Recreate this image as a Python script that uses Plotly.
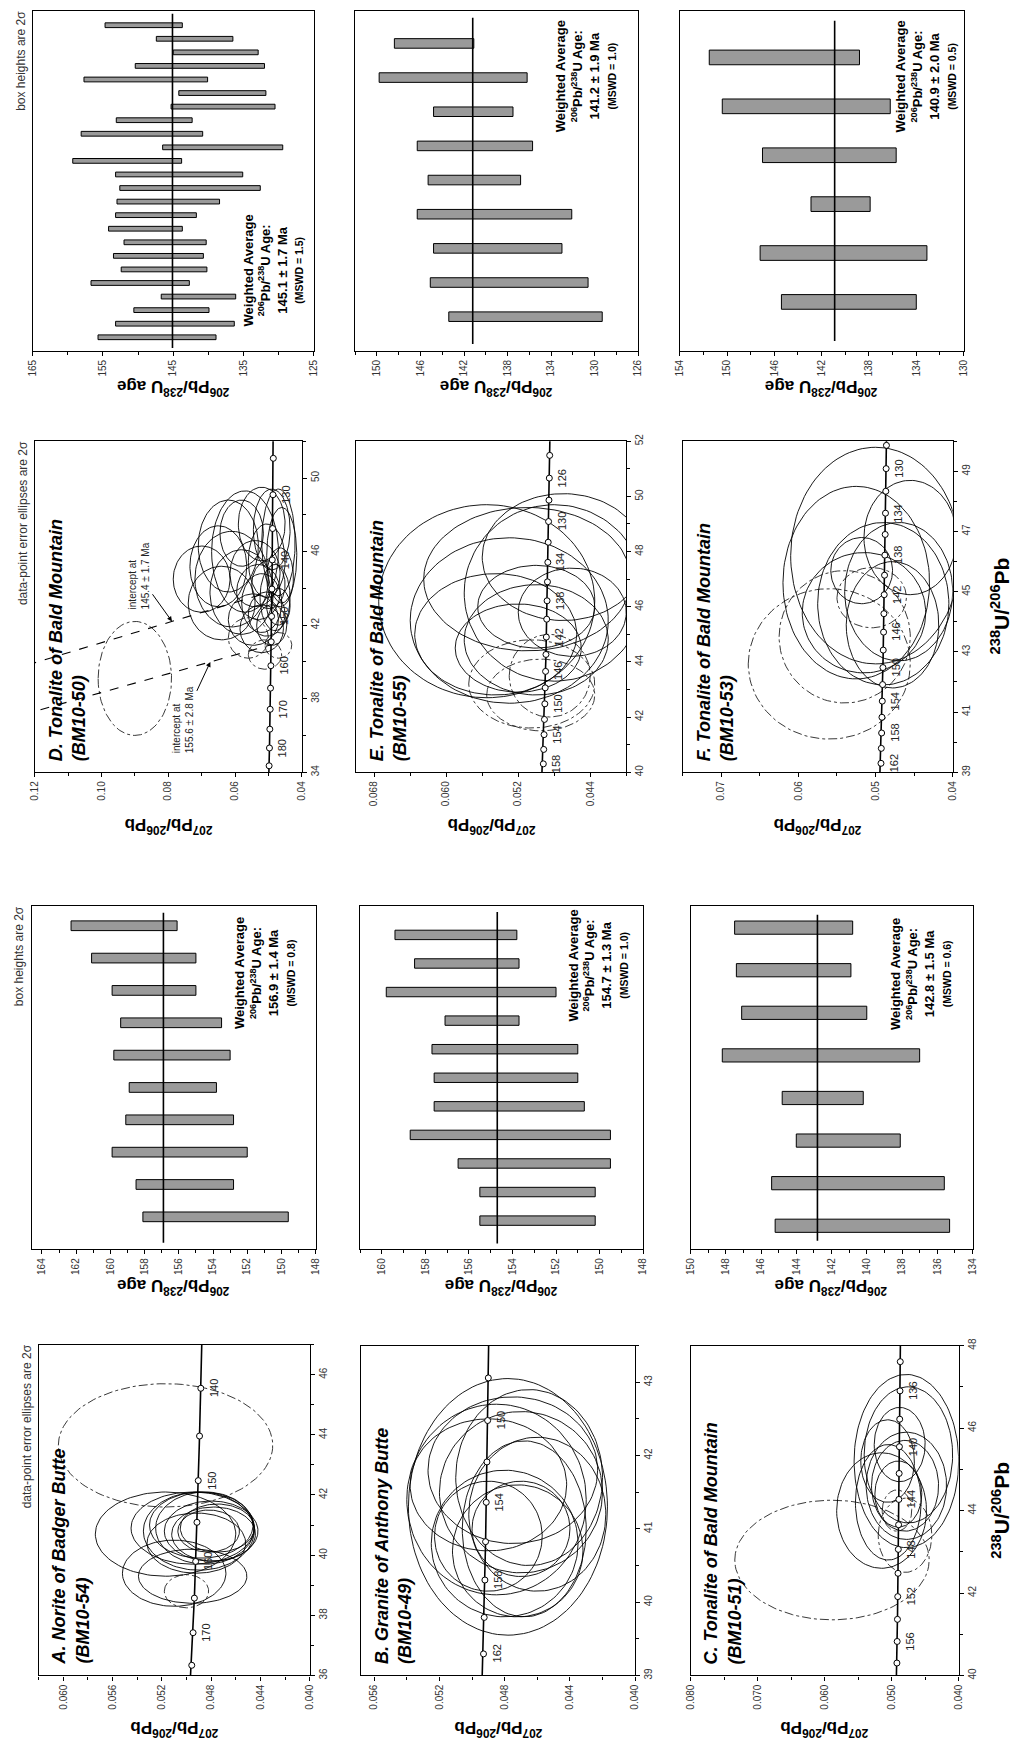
import numpy as np
import plotly.graph_objects as go

W, H = 1024, 1758
SANS = "Liberation Sans, Arial, Helvetica, sans-serif"
NARROW = "Liberation Sans Narrow, Liberation Sans, Arial, sans-serif"

# decay constants used for the concordia curve
LAMBDA_238 = 1.55125e-10
LAMBDA_235 = 9.8485e-10
U238_U235 = 137.88
COMMON_PB76 = 0.85  # common-Pb 207Pb/206Pb anchor of the discordia lines (panel D)

# ---------------- weighted-average boxes (2 sigma limits, Ma), listed top to bottom ----------------
D_wa_hi = [154.7, 147.4, 145.0, 150.4, 157.7, 144.2, 145.3, 153.1, 158.1, 146.5, 159.3, 153.2,
           152.6, 153.0, 153.2, 154.2, 152.0, 153.5, 152.4, 156.7, 146.7, 150.6, 153.2, 155.7]
D_wa_lo = [143.7, 136.5, 132.9, 132.0, 140.1, 131.8, 130.5, 142.3, 140.8, 129.4, 143.8, 135.1,
           132.6, 138.4, 141.7, 143.7, 140.3, 140.7, 140.2, 142.7, 136.1, 139.9, 136.3, 138.9]
D_wa_stats = (145.1, 1.7, 1.5)

E_wa_hi = [148.4, 149.8, 144.8, 146.3, 145.3, 146.3, 144.8, 145.1, 143.4]
E_wa_lo = [141.1, 136.2, 137.5, 135.7, 136.8, 132.1, 133.0, 130.6, 129.3]
E_wa_stats = (141.2, 1.9, 1.0)

F_wa_hi = [151.5, 150.4, 147.0, 142.9, 147.2, 145.4]
F_wa_lo = [138.8, 136.2, 135.7, 137.9, 133.1, 134.0]
F_wa_stats = (140.9, 2.0, 0.5)

A_wa_hi = [162.3, 161.1, 159.9, 159.4, 159.8, 158.9, 159.1, 159.9, 158.5, 158.1]
A_wa_lo = [156.1, 155.0, 155.0, 153.5, 153.0, 153.8, 152.8, 152.0, 152.8, 149.6]
A_wa_stats = (156.9, 1.4, 0.8)

B_wa_hi = [159.4, 158.5, 159.8, 157.1, 157.7, 157.6, 157.6, 158.7, 156.5, 155.5, 155.5]
B_wa_lo = [153.8, 153.7, 152.0, 153.7, 151.0, 151.0, 150.7, 149.5, 149.5, 150.2, 150.2]
B_wa_stats = (154.7, 1.3, 1.0)

C_wa_hi = [147.5, 147.4, 147.1, 148.2, 144.8, 144.0, 145.4, 145.2]
C_wa_lo = [140.8, 140.9, 140.0, 137.0, 140.2, 138.1, 135.6, 135.3]
C_wa_stats = (142.8, 1.5, 0.6)

# ---------------- concordia error ellipses: centre 238U/206Pb, centre 207Pb/206Pb, half-axes ----------------
A_u = [40.7, 39.4, 39.3, 40.8, 40.9, 40.8, 41.0, 40.7, 40.9, 40.4, 40.9, 40.8]
A_pb = [0.0517, 0.0510, 0.0495, 0.0490, 0.0485, 0.0480, 0.0488, 0.0478, 0.0475, 0.0492, 0.0495, 0.0482]
A_su = [1.4, 1.1, 0.9, 1.3, 1.2, 1.0, 1.1, 0.9, 0.8, 1.0, 1.2, 0.7]
A_spb = [0.0057, 0.0042, 0.0044, 0.0045, 0.0040, 0.0038, 0.0042, 0.0034, 0.0030, 0.0040, 0.0050, 0.0025]
A_x_u = [43.65, 38.8]
A_x_pb = [0.0517, 0.0500]
A_x_su = [2.05, 0.55]
A_x_spb = [0.0087, 0.0018]

B_u = [41.3, 41.7, 41.5, 41.8, 41.2, 40.8, 40.9, 41.0, 41.6, 40.7, 41.4, 41.0]
B_pb = [0.0478, 0.0465, 0.0470, 0.0475, 0.0460, 0.0480, 0.0490, 0.0470, 0.0490, 0.0472, 0.0485, 0.0468]
B_su = [1.75, 1.2, 1.1, 1.0, 1.05, 1.0, 0.75, 0.65, 0.9, 0.9, 1.3, 1.2]
B_spb = [0.0061, 0.0045, 0.0050, 0.0052, 0.0042, 0.0045, 0.0033, 0.0030, 0.0048, 0.0040, 0.0055, 0.0038]
B_x_u, B_x_pb, B_x_su, B_x_spb = [], [], [], []

C_u = [44.0, 45.2, 45.35, 45.2, 44.2, 44.6, 44.4, 44.6, 45.6]
C_pb = [0.0515, 0.0478, 0.0475, 0.0506, 0.0505, 0.0480, 0.0490, 0.0478, 0.0488]
C_su = [1.4, 2.1, 1.65, 1.0, 1.4, 1.1, 0.8, 1.3, 0.9]
C_spb = [0.0067, 0.0078, 0.0066, 0.0040, 0.0049, 0.0050, 0.0035, 0.0060, 0.0038]
C_x_u = [42.8, 43.4, 44.0]
C_x_pb = [0.0589, 0.0480, 0.0492]
C_x_su = [1.45, 0.9, 0.5]
C_x_spb = [0.0145, 0.0040, 0.0022]

D_u = [46.3, 46.0, 45.2, 44.5, 43.8, 43.2, 44.8, 43.8, 43.2, 42.6, 44.2, 45.5,
       46.5, 47.2, 42.3, 41.8, 43.5, 45.8, 44.6, 42.0, 47.5, 43.0, 44.5, 47.0]
D_pb = [0.0620, 0.0570, 0.0650, 0.0610, 0.0580, 0.0640, 0.0540, 0.0530, 0.0520, 0.0505, 0.0500, 0.0505,
        0.0470, 0.0490, 0.0545, 0.0520, 0.0480, 0.0460, 0.0465, 0.0490, 0.0520, 0.0470, 0.0700, 0.0580]
D_su = [2.5, 3.3, 2.2, 2.6, 2.3, 2.0, 1.8, 1.5, 1.6, 1.2, 1.3, 2.0,
        2.9, 2.2, 1.4, 1.3, 1.8, 2.6, 1.6, 1.1, 2.0, 1.0, 1.8, 1.8]
D_spb = [0.0090, 0.0100, 0.0085, 0.0110, 0.0095, 0.0100, 0.0075, 0.0065, 0.0060, 0.0055, 0.0050, 0.0055,
         0.0050, 0.0055, 0.0075, 0.0065, 0.0045, 0.0045, 0.0040, 0.0045, 0.0070, 0.0035, 0.0085, 0.0065]
D_x_u = [39.1, 40.4, 40.9, 41.3]
D_x_pb = [0.0900, 0.0510, 0.0470, 0.0560]
D_x_su = [3.1, 0.8, 0.7, 1.1]
D_x_spb = [0.0110, 0.0050, 0.0040, 0.0060]
D_intercepts = [145.4, 155.6]
D_intercept_txt = ["intercept at<br>145.4 ± 1.7 Ma", "intercept at<br>155.6 ± 2.8 Ma"]

E_u = [46.2, 45.5, 47.0, 46.5, 45.0, 44.8, 45.8, 47.8, 44.5, 46.0]
E_pb = [0.0555, 0.0530, 0.0510, 0.0480, 0.0545, 0.0500, 0.0460, 0.0470, 0.0520, 0.0500]
E_su = [3.5, 3.0, 2.6, 3.2, 2.2, 2.0, 1.6, 2.3, 1.6, 1.5]
E_spb = [0.0120, 0.0110, 0.0115, 0.0100, 0.0090, 0.0080, 0.0060, 0.0090, 0.0070, 0.0065]
E_x_u = [43.2, 42.8, 43.5]
E_x_pb = [0.0505, 0.0495, 0.0485]
E_x_su = [1.6, 1.3, 1.5]
E_x_spb = [0.0070, 0.0060, 0.0045]

F_u = [46.2, 45.3, 44.6, 45.0, 45.7, 44.3, 43.9, 46.8]
F_pb = [0.0500, 0.0525, 0.0490, 0.0470, 0.0518, 0.0515, 0.0478, 0.0455]
F_su = [3.6, 3.2, 2.7, 2.3, 1.1, 2.0, 2.1, 1.9]
F_spb = [0.0110, 0.0095, 0.0085, 0.0070, 0.0040, 0.0080, 0.0060, 0.0060]
F_x_u = [42.6, 43.5, 44.8]
F_x_pb = [0.0560, 0.0540, 0.0505]
F_x_su = [2.5, 2.2, 1.0]
F_x_spb = [0.0105, 0.0085, 0.0045]

# concordia age markers and labelled ages (Ma)
A_marks = [140, 145, 150, 155, 160, 165, 170, 175]
A_labels = [140, 150, 160, 170]
B_marks = [148, 150, 152, 154, 156, 158, 160, 162]
B_labels = [150, 154, 158, 162]
C_marks = [134, 136, 138, 140, 142, 144, 146, 148, 150, 152, 154, 156, 158]
C_labels = [136, 140, 144, 148, 152, 156]
D_marks = [120, 125, 130, 135, 140, 145, 150, 155, 160, 165, 170, 175, 180, 185]
D_labels = [130, 140, 150, 160, 170, 180]
E_marks = [124, 126, 128, 130, 132, 134, 136, 138, 140, 142, 144, 146, 148, 150, 152, 154, 156, 158, 160]
E_labels = [126, 130, 134, 138, 142, 146, 150, 154, 158]
F_marks = [128, 130, 132, 134, 136, 138, 140, 142, 144, 146, 148, 150, 152, 154, 156, 158, 160, 162]
F_labels = [130, 134, 138, 142, 146, 150, 154, 158, 162]

TITLES = {
    'A': "A. Norite of Badger Butte", 'B': "B. Granite of Anthony Butte",
    'C': "C. Tonalite of Bald Mountain", 'D': "D. Tonalite of Bald Mountain",
    'E': "E. Tonalite of Bald Mountain", 'F': "F. Tonalite of Bald Mountain",
}
SAMPLES = {'A': "(BM10-54)", 'B': "(BM10-49)", 'C': "(BM10-51)",
           'D': "(BM10-50)", 'E': "(BM10-55)", 'F': "(BM10-53)"}

# ---------------- layout of the (rotated) figure: pixel frames ----------------
CONC = {
    'A': dict(frame=(33, 307, 1346, 1679), pb=(0.062, 0.040, 0.040, 0.004, 0.002, '.3f'), u=(36, 47, 36, 2, 1)),
    'B': dict(frame=(359, 636, 1347, 1679), pb=(0.0568, 0.040, 0.040, 0.004, 0.002, '.3f'), u=(39, 43.5, 39, 1, 0.5)),
    'C': dict(frame=(692, 963, 1347, 1679), pb=(0.080, 0.040, 0.040, 0.010, 0.005, '.3f'), u=(40, 48, 40, 2, 1)),
    'D': dict(frame=(29, 299, 437, 770), pb=(0.12, 0.04, 0.04, 0.02, 0.01, '.2f'), u=(34, 52, 34, 4, 2)),
    'E': dict(frame=(354, 627, 437, 770), pb=(0.070, 0.040, 0.044, 0.008, 0.004, '.3f'), u=(40, 52, 40, 2, 1)),
    'F': dict(frame=(684, 957, 437, 770), pb=(0.075, 0.040, 0.040, 0.010, 0.005, '.2f'), u=(39, 50, 39, 2, 1)),
}
WA = {
    'D': dict(frame=(27, 311, 4, 346), age=(165, 125, 125, 10, 5), pad=(1.05, 1.0), width=0.35, txt=(270, 265)),
    'E': dict(frame=(353, 639, 4, 346), age=(152, 126, 126, 4, 2), pad=(0.95, 1.0), width=0.28, txt=(586, 70)),
    'F': dict(frame=(681, 968, 4, 346), age=(154, 130, 130, 4, 2), pad=(0.95, 1.0), width=0.30, txt=(930, 70)),
    'A': dict(frame=(26, 313, 905, 1250), age=(164.6, 148, 148, 2, 1), pad=(0.6, 1.0), width=0.30, txt=(262, 972)),
    'B': dict(frame=(358, 644, 905, 1250), age=(161, 148, 148, 2, 1), pad=(1.0, 1.0), width=0.33, txt=(599, 965)),
    'C': dict(frame=(692, 977, 905, 1250), age=(150, 134, 134, 2, 1), pad=(0.5, 0.55), width=0.31, txt=(925, 973)),
}

data = globals()


def conc_point(age_ma):
    t = np.asarray(age_ma, dtype=float) * 1e6
    e8 = np.expm1(LAMBDA_238 * t)
    e5 = np.expm1(LAMBDA_235 * t)
    return 1.0 / e8, e5 / e8 / U238_U235


def ellipse_path(cu, cpb, su, spb):
    th = np.linspace(0, 2 * np.pi, 121)
    xs, ys = [], []
    for a, b, c, d in zip(cu, cpb, su, spb):
        xs += list(b + d * np.cos(th)) + [None]
        ys += list(a + c * np.sin(th)) + [None]
    return xs, ys


def px(X):
    return X / W


def py(Y):
    return 1 - Y / H


fig = go.Figure()
layout = dict(width=W, height=H, margin=dict(l=0, r=0, t=0, b=0),
              paper_bgcolor='white', plot_bgcolor='white', showlegend=False)
ann = []
count = [0]


def base_axis():
    return dict(showline=True, linecolor='black', linewidth=1.2, mirror=True, showgrid=False,
                zeroline=False, ticks='outside', ticklen=4, tickwidth=1, tickcolor='black',
                tickfont=dict(family=NARROW, size=10, color='#333'))


def new_axes(frame, xopts, yopts):
    count[0] += 1
    k = count[0]
    X0, X1, Y0, Y1 = frame
    xn, yn = ('xaxis', 'yaxis') if k == 1 else (f'xaxis{k}', f'yaxis{k}')
    xr, yr = ('x', 'y') if k == 1 else (f'x{k}', f'y{k}')
    layout[xn] = {**base_axis(), **xopts, 'domain': [px(X0), px(X1)], 'anchor': yr}
    layout[yn] = {**base_axis(), **yopts, 'domain': [py(Y1), py(Y0)], 'anchor': xr}
    return xr, yr


# ---------------- weighted-average panels ----------------
for key, spec in WA.items():
    hi = data[f'{key}_wa_hi']
    lo = data[f'{key}_wa_lo']
    mean, err, mswd = data[f'{key}_wa_stats']
    n = len(hi)
    amax, amin, t0, dt, mdt = spec['age']
    pt, pb_ = spec['pad']
    X0, X1, Y0, Y1 = spec['frame']
    xr, yr = new_axes(
        spec['frame'],
        dict(range=[amax, amin], side='bottom', tickangle=-90, tick0=t0, dtick=dt,
             minor=dict(ticks='outside', tick0=t0, dtick=mdt, ticklen=3, tickcolor='black')),
        dict(range=[n - 1 + pb_, -pt], showticklabels=False, ticks=''))
    idx = list(range(n))
    fig.add_trace(go.Bar(orientation='h', y=idx, x=[h - l for h, l in zip(hi, lo)], base=lo,
                         width=spec['width'], xaxis=xr, yaxis=yr,
                         marker=dict(color='#9a9a9a', line=dict(color='black', width=1))))
    fig.add_trace(go.Scatter(x=[mean, mean], y=[-pt + 0.2, n - 1 + pb_ - 0.2], mode='lines',
                             line=dict(color='black', width=1.6), xaxis=xr, yaxis=yr, hoverinfo='skip'))
    cx, cy = spec['txt']
    ann.append(dict(xref='paper', yref='paper', x=px(cx), y=py(cy), xanchor='center', yanchor='middle',
                    textangle=-90, showarrow=False, align='center',
                    font=dict(family=SANS, size=13, color='black'),
                    text=(f"<b>Weighted Average</b><br><b><sup>206</sup>Pb/<sup>238</sup>U Age:</b><br>"
                          f"<b>{mean:.1f} ± {err:.1f} Ma</b><br>"
                          f"<b><span style='font-size:10.5px'>(MSWD = {mswd:.1f})</span></b>")))
    ann.append(dict(xref='paper', yref='paper', x=px((X0 + X1) / 2), y=py(Y1 + 38), xanchor='center',
                    yanchor='middle', textangle=180, showarrow=False,
                    font=dict(family=SANS, size=17, color='black'),
                    text="<b><sup>206</sup>Pb/<sup>238</sup>U age</b>"))
    if key in ('A', 'D'):
        ann.append(dict(xref='paper', yref='paper', x=px(X0 - 12), y=py(Y0 - 2), xanchor='center',
                        yanchor='top', textangle=-90, showarrow=False,
                        font=dict(family=NARROW, size=12, color='#333'), text="box heights are 2σ"))

# ---------------- concordia panels ----------------
ages_curve = np.linspace(90, 220, 400)
curve_u, curve_pb = conc_point(ages_curve)

for key, spec in CONC.items():
    pbmax, pbmin, pt0, pdt, pmdt, pfmt = spec['pb']
    umin, umax, ut0, udt, umdt = spec['u']
    X0, X1, Y0, Y1 = spec['frame']
    xr, yr = new_axes(
        spec['frame'],
        dict(range=[pbmax, pbmin], side='bottom', tickangle=-90, tick0=pt0, dtick=pdt, tickformat=pfmt,
             minor=dict(ticks='outside', tick0=pt0, dtick=pmdt, ticklen=3, tickcolor='black')),
        dict(range=[umin, umax], side='right', tickangle=-90, tick0=ut0, dtick=udt,
             minor=dict(ticks='outside', tick0=ut0, dtick=umdt, ticklen=3, tickcolor='black')))

    # dash-dot (excluded) ellipses
    xx, yy = ellipse_path(data[f'{key}_x_u'], data[f'{key}_x_pb'], data[f'{key}_x_su'], data[f'{key}_x_spb'])
    if xx:
        fig.add_trace(go.Scatter(x=xx, y=yy, mode='lines', xaxis=xr, yaxis=yr, hoverinfo='skip',
                                 line=dict(color='#222', width=0.9, dash='dashdot')))
    # discordia lines for panel D
    if key == 'D':
        for k2, age in enumerate(D_intercepts):
            ui, pbi = conc_point(age)
            uu = np.linspace(0, float(ui), 60)
            pp = COMMON_PB76 + (float(pbi) - COMMON_PB76) * uu / float(ui)
            fig.add_trace(go.Scatter(x=pp, y=uu, mode='lines', xaxis=xr, yaxis=yr, hoverinfo='skip',
                                     line=dict(color='black', width=1.1, dash='dash')))
        arrow_u = [42.2, 40.0]
        offsets = [(-33, -46), (-27, 58)]
        for age, au, (ax_, ay_), txt in zip(D_intercepts, arrow_u, offsets, D_intercept_txt):
            ui, pbi = conc_point(age)
            ap = COMMON_PB76 + (float(pbi) - COMMON_PB76) * au / float(ui)
            ann.append(dict(xref=xr, yref=yr, x=ap, y=au, ax=ax_, ay=ay_, showarrow=True, arrowhead=2,
                            arrowsize=1, arrowwidth=1, arrowcolor='black', textangle=-90, align='left',
                            font=dict(family=NARROW, size=10, color='#222'), text=txt))
    # solid ellipses
    xx, yy = ellipse_path(data[f'{key}_u'], data[f'{key}_pb'], data[f'{key}_su'], data[f'{key}_spb'])
    fig.add_trace(go.Scatter(x=xx, y=yy, mode='lines', xaxis=xr, yaxis=yr, hoverinfo='skip',
                             line=dict(color='black', width=0.9)))
    # concordia curve and age markers
    fig.add_trace(go.Scatter(x=curve_pb, y=curve_u, mode='lines', xaxis=xr, yaxis=yr, hoverinfo='skip',
                             line=dict(color='black', width=1.6)))
    mu, mpb = conc_point(data[f'{key}_marks'])
    fig.add_trace(go.Scatter(x=mpb, y=mu, mode='markers', xaxis=xr, yaxis=yr, hoverinfo='skip',
                             marker=dict(symbol='circle', size=6, color='white',
                                         line=dict(color='black', width=1))))
    for age in data[f'{key}_labels']:
        lu, lpb = conc_point(age)
        ann.append(dict(xref=xr, yref=yr, x=float(lpb), y=float(lu), xshift=13, showarrow=False,
                        textangle=-90, font=dict(family=NARROW, size=11, color='#222'), text=str(age)))
    # panel title
    ann.append(dict(xref='paper', yref='paper', x=px(X0 + 9), y=py(Y1 - 9), xanchor='left', yanchor='bottom',
                    textangle=-90, showarrow=False, align='left',
                    font=dict(family=SANS, size=18, color='black'),
                    text=f"<b><i>{TITLES[key]}</i></b><br><b><i>{SAMPLES[key]}</i></b>"))
    # y (207/206) axis title, upside down
    ann.append(dict(xref='paper', yref='paper', x=px((X0 + X1) / 2), y=py(Y1 + 54), xanchor='center',
                    yanchor='middle', textangle=180, showarrow=False,
                    font=dict(family=SANS, size=17, color='black'),
                    text="<b><sup>207</sup>Pb/<sup>206</sup>Pb</b>"))
    if key in ('A', 'D'):
        ann.append(dict(xref='paper', yref='paper', x=px(X0 - 12), y=py(Y0 - 2), xanchor='center',
                        yanchor='top', textangle=-90, showarrow=False,
                        font=dict(family=NARROW, size=12, color='#333'),
                        text="data-point error ellipses are 2σ"))

# shared 238U/206Pb axis titles (one per concordia row)
for yc in (603, 1513):
    ann.append(dict(xref='paper', yref='paper', x=px(1005), y=py(yc), xanchor='center', yanchor='middle',
                    textangle=-90, showarrow=False, font=dict(family=SANS, size=21, color='black'),
                    text="<b><sup>238</sup>U/<sup>206</sup>Pb</b>"))

layout['annotations'] = ann
fig.update_layout(**layout)
fig.write_html("out.html")
